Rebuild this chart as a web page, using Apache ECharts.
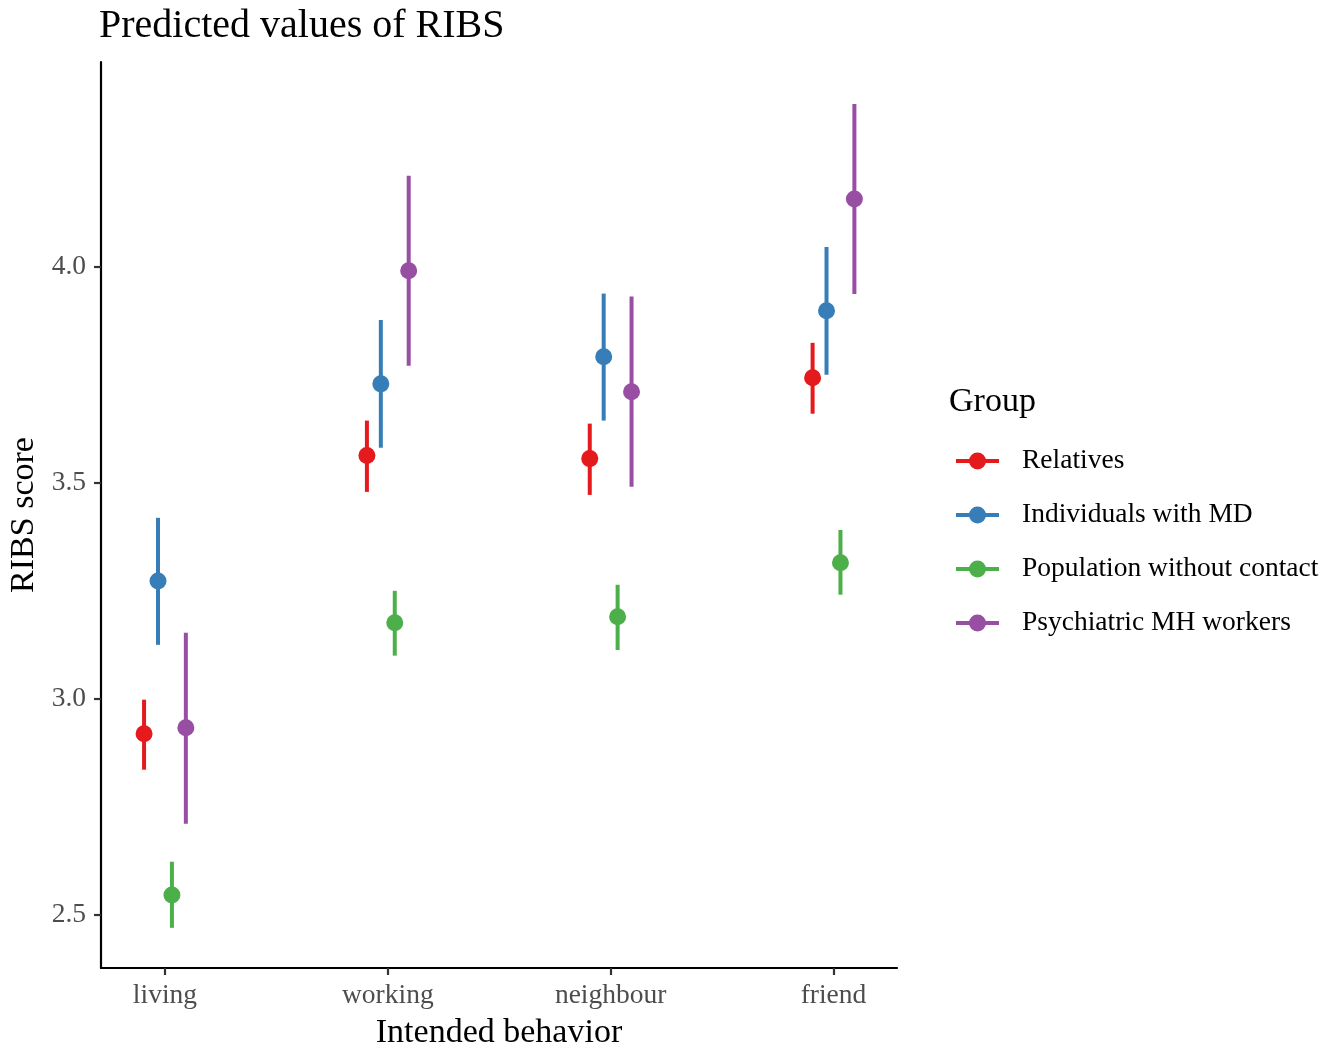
<!DOCTYPE html>
<html>
<head>
<meta charset="utf-8">
<title>Predicted values of RIBS</title>
<script src="https://cdn.jsdelivr.net/npm/echarts@6/dist/echarts.min.js"></script>
<style>
  html, body { margin: 0; padding: 0; background: #fff; }
  #chart { width: 1334px; height: 1051px; }
</style>
</head>
<body>
<div id="chart"></div>
<script>
'use strict';

// categories on the x axis
var categories = ['living', 'working', 'neighbour', 'friend'];
var groups = ['Relatives', 'Individuals with MD', 'Population without contact', 'Psychiatric MH workers'];

// predicted values and 95% CI, per group, one value per category
var relativesMean = [2.919, 3.563, 3.556, 3.743];
var relativesLow  = [2.836, 3.479, 3.472, 3.660];
var relativesHigh = [2.998, 3.644, 3.637, 3.824];

var mdMean = [3.273, 3.729, 3.792, 3.898];
var mdLow  = [3.125, 3.581, 3.644, 3.750];
var mdHigh = [3.419, 3.877, 3.938, 4.046];

var popMean = [2.546, 3.176, 3.190, 3.315];
var popLow  = [2.470, 3.100, 3.113, 3.241];
var popHigh = [2.623, 3.250, 3.264, 3.391];

var mhMean = [2.933, 3.991, 3.711, 4.157];
var mhLow  = [2.711, 3.771, 3.491, 3.937];
var mhHigh = [3.153, 4.211, 3.931, 4.377];

var yTicks = [2.5, 3.0, 3.5, 4.0];

var colors = ['#E41A1C', '#377EB8', '#4DAF4A', '#984EA3'];
var FONT = '"Liberation Serif", "DejaVu Serif", serif';
var DODGE = 0.25;

var Page = {
	series: function(){
		var sets = [
			[relativesMean, relativesLow, relativesHigh],
			[mdMean, mdLow, mdHigh],
			[popMean, popLow, popHigh],
			[mhMean, mhLow, mhHigh]
		];
		var out = [];
		for(var g=0;g<groups.length;g++){
			var offset = (g - (groups.length-1)/2) * DODGE/groups.length;
			var data = [];
			for(var i=0;i<categories.length;i++){
				data.push([i+1+offset, sets[g][0][i], sets[g][1][i], sets[g][2][i]]);
			}
			out.push({
				name: groups[g],
				type: 'custom',
				itemStyle: { color: colors[g] },
				data: data,
				encode: { x: 0, y: [1, 2, 3] },
				renderItem: (function(color){
					return function(params, api){
						var x = api.value(0);
						var p = api.coord([x, api.value(1)]);
						var lo = api.coord([x, api.value(2)]);
						var hi = api.coord([x, api.value(3)]);
						return {
							type: 'group',
							children: [
								{type:'line', shape:{x1:lo[0], y1:lo[1], x2:hi[0], y2:hi[1]}, style:{stroke:color, lineWidth:4}},
								{type:'circle', shape:{cx:p[0], cy:p[1], r:8.5}, style:{fill:color}}
							]
						};
					};
				}(colors[g]))
			});
		}
		return out;
	}
};

var legendIcon = 'path://M0,6.5L43,6.5L43,10.5L0,10.5Z M21.5,0A8.5,8.5,0,1,1,21.5,17A8.5,8.5,0,1,1,21.5,0Z';

var chart = echarts.init(document.getElementById('chart'));
chart.setOption({
	animation: false,
	backgroundColor: '#fff',
	title: [{
		text: 'Predicted values of RIBS',
		left: 99, top: 6, padding: 0,
		textStyle: { fontFamily: FONT, fontSize: 40, fontWeight: 'normal', color: '#000' }
	}, {
		text: 'Group',
		left: 949, top: 385, padding: 0,
		textStyle: { fontFamily: FONT, fontSize: 34, fontWeight: 'normal', color: '#000' }
	}],
	legend: {
		orient: 'vertical',
		left: 956, top: 447,
		padding: 0,
		itemWidth: 43, itemHeight: 17,
		itemGap: 26,
		data: groups.map(function(n){ return {name: n, icon: legendIcon}; }),
		textStyle: { fontFamily: FONT, fontSize: 27.5, color: '#000', padding: [0, 0, 0, 18] }
	},
	grid: { left: 101, right: 437, top: 62, bottom: 83, containLabel: false, outerBoundsMode: 'none' },
	xAxis: {
		type: 'value',
		min: 0.713, max: 4.285,
		name: 'Intended behavior',
		nameLocation: 'middle',
		nameGap: 48,
		nameTextStyle: { fontFamily: FONT, fontSize: 34, color: '#000' },
		splitLine: { show: false },
		axisLine: { show: true, lineStyle: { color: '#000', width: 2.2 } },
		axisTick: { show: true, length: 7, customValues: [1, 2, 3, 4], lineStyle: { color: '#333', width: 2.2 } },
		axisLabel: {
			customValues: [1, 2, 3, 4],
			margin: 14,
			fontFamily: FONT, fontSize: 27.5, color: '#4D4D4D',
			formatter: function(v){ return categories[Math.round(v)-1]; }
		}
	},
	yAxis: {
		type: 'value',
		min: 2.377, max: 4.474,
		name: 'RIBS score',
		nameLocation: 'middle',
		nameGap: 58,
		nameTextStyle: { fontFamily: FONT, fontSize: 34, color: '#000' },
		splitLine: { show: false },
		axisLine: { show: true, lineStyle: { color: '#000', width: 2.2 } },
		axisTick: { show: true, length: 7, customValues: yTicks, lineStyle: { color: '#333', width: 2.2 } },
		axisLabel: {
			customValues: yTicks,
			margin: 15,
			fontFamily: FONT, fontSize: 27.5, color: '#4D4D4D',
			formatter: function(v){ return v.toFixed(1); }
		}
	},
	series: Page.series()
});
</script>
</body>
</html>
